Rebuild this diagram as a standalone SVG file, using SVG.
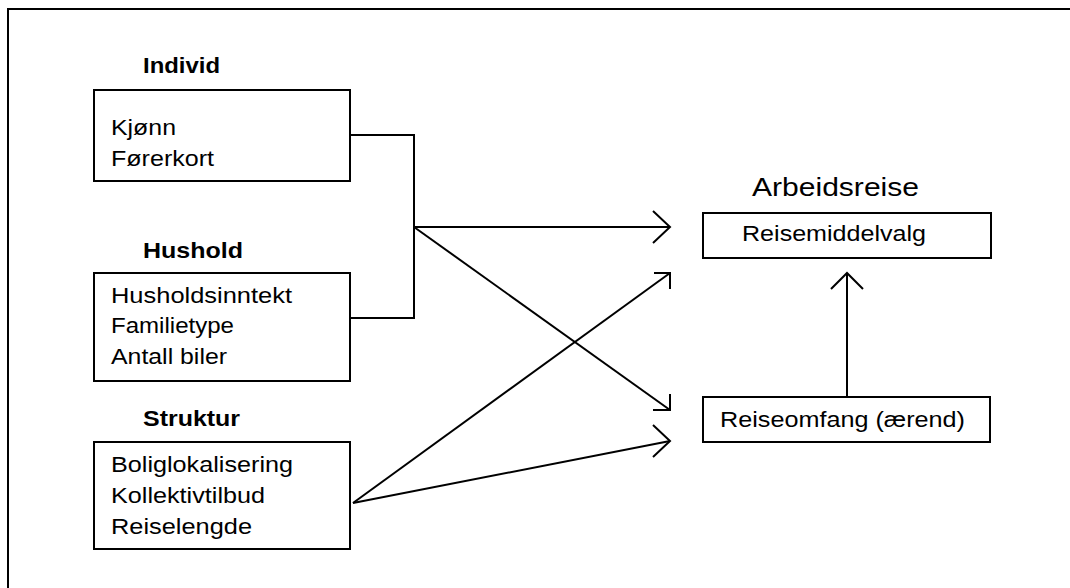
<svg xmlns="http://www.w3.org/2000/svg" width="1070" height="588" viewBox="0 0 1070 588">
<style>
.box{fill:#fff;stroke:#000;stroke-width:2}
.frame{fill:#fff;stroke:#000;stroke-width:2}
.ln{fill:none;stroke:#000;stroke-width:2}
.t{font-family:"Liberation Sans",Arial,sans-serif;font-size:22px;fill:#000}
.b{font-family:"Liberation Sans",Arial,sans-serif;font-size:22px;font-weight:bold;fill:#000}
.h{font-family:"Liberation Sans",Arial,sans-serif;font-size:26px;fill:#000}
</style>
<rect class="frame" x="8" y="9" width="1100" height="620"/>
<g id="connectors">
<polyline class="ln" points="350,135 414,135 414,318 350,318"/>
<line class="ln" x1="414" y1="227" x2="670" y2="227"/>
<polyline class="ln" points="653,211 670,227 653,243"/>
<line class="ln" x1="414" y1="227" x2="670" y2="410"/>
<polyline class="ln" points="670,394 670,410 653,410"/>
<line class="ln" x1="353" y1="503" x2="670" y2="273"/>
<polyline class="ln" points="654,273 670,273 670,289"/>
<line class="ln" x1="353" y1="503" x2="670" y2="441"/>
<polyline class="ln" points="653,425 670,441 653,457"/>
<line class="ln" x1="847" y1="396" x2="847" y2="274"/>
<polyline class="ln" points="831,289 847,273 863,289"/>
</g>
<g id="individ">
<text class="b" x="143" y="73" textLength="77" lengthAdjust="spacingAndGlyphs">Individ</text>
<rect class="box" x="94" y="90" width="256" height="91"/>
<text class="t" x="111" y="135" textLength="65" lengthAdjust="spacingAndGlyphs">Kjønn</text>
<text class="t" x="111" y="166" textLength="103" lengthAdjust="spacingAndGlyphs">Førerkort</text>
</g>
<g id="hushold">
<text class="b" x="143" y="258" textLength="100" lengthAdjust="spacingAndGlyphs">Hushold</text>
<rect class="box" x="94" y="273" width="256" height="108"/>
<text class="t" x="111" y="303" textLength="181" lengthAdjust="spacingAndGlyphs">Husholdsinntekt</text>
<text class="t" x="111" y="333" textLength="123" lengthAdjust="spacingAndGlyphs">Familietype</text>
<text class="t" x="111" y="364" textLength="116" lengthAdjust="spacingAndGlyphs">Antall biler</text>
</g>
<g id="struktur">
<text class="b" x="143" y="426" textLength="97" lengthAdjust="spacingAndGlyphs">Struktur</text>
<rect class="box" x="94" y="442" width="256" height="107"/>
<text class="t" x="111" y="472" textLength="182" lengthAdjust="spacingAndGlyphs">Boliglokalisering</text>
<text class="t" x="111" y="503" textLength="154" lengthAdjust="spacingAndGlyphs">Kollektivtilbud</text>
<text class="t" x="111" y="534" textLength="141" lengthAdjust="spacingAndGlyphs">Reiselengde</text>
</g>
<g id="arbeidsreise">
<text class="h" x="752" y="196" textLength="167" lengthAdjust="spacingAndGlyphs">Arbeidsreise</text>
</g>
<g id="reisemiddelvalg">
<rect class="box" x="703" y="213" width="288" height="45"/>
<text class="t" x="742" y="241" textLength="184" lengthAdjust="spacingAndGlyphs">Reisemiddelvalg</text>
</g>
<g id="reiseomfang">
<rect class="box" x="703" y="397" width="287" height="45"/>
<text class="t" x="720" y="427" textLength="245" lengthAdjust="spacingAndGlyphs">Reiseomfang (ærend)</text>
</g>
</svg>
